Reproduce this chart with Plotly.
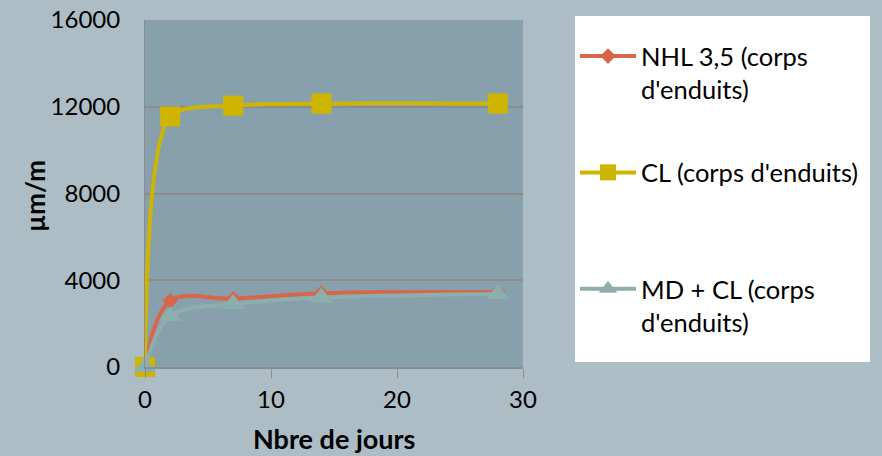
import plotly.graph_objects as go

days = [0, 2, 7, 14, 28]
nhl = [0, 3050, 3150, 3400, 3450]
cl = [0, 11550, 12050, 12150, 12150]
mdcl = [0, 2350, 2900, 3200, 3370]

series_names = ["NHL 3,5 (corps<br>d'enduits)", "CL (corps d'enduits)<br>&nbsp;", "MD + CL (corps<br>d'enduits)"]
x_ticks = [0, 10, 20, 30]
y_ticks = [0, 4000, 8000, 12000, 16000]
y_ticklabels = ["0", "4000", "8000", "12000", "16000"]
x_title = "Nbre de jours"
y_title = "µm/m"

W, H = 882, 456
L, R, T, B = 145, 523, 20, 367

def px2x(p):
    return (p - L) / (R - L)

def py2y(p):
    return (B - p) / (B - T)

fig = go.Figure()
fig.add_trace(go.Scatter(x=days, y=nhl, name=series_names[0], mode="lines+markers",
                         line=dict(color="#D8664B", width=4, shape="spline", smoothing=1.0),
                         marker=dict(symbol="diamond", size=12, color="#D8664B"),
                         cliponaxis=False, legendgroup="a"))
fig.add_trace(go.Scatter(x=days, y=cl, name=series_names[1], mode="lines+markers",
                         line=dict(color="#CFB500", width=4, shape="spline", smoothing=0.75),
                         marker=dict(symbol="square", size=20, color="#CFB500"),
                         cliponaxis=False, legendgroup="b"))
fig.add_trace(go.Scatter(x=days, y=mdcl, name=series_names[2], mode="lines+markers",
                         line=dict(color="#8CAEAC", width=4, shape="spline", smoothing=1.0),
                         marker=dict(symbol="triangle-up", size=20, color="#8CAEAC"),
                         cliponaxis=False, legendgroup="c"))

fig.add_shape(type="rect", xref="paper", yref="paper",
              x0=px2x(575), x1=px2x(870), y0=py2y(362), y1=py2y(16),
              fillcolor="white", line=dict(width=0), layer="below")

fig.add_annotation(text="<b>" + x_title + "</b>", xref="paper", yref="paper",
                   x=0.5, y=py2y(438), xanchor="center", yanchor="middle",
                   showarrow=False, font=dict(size=27))
fig.add_annotation(text="<b>" + y_title + "</b>", xref="paper", yref="paper",
                   x=px2x(35), y=py2y(196), xanchor="center", yanchor="middle",
                   textangle=-90, showarrow=False, font=dict(size=26))

font_family = "Lato, 'Open Sans', sans-serif"
fig.update_layout(
    width=W, height=H,
    margin=dict(l=L, r=W - R, t=T, b=H - B, pad=0, autoexpand=False),
    paper_bgcolor="#ADBDC5",
    plot_bgcolor="#88A0AB",
    font=dict(family=font_family, size=24, color="black"),
    showlegend=True,
    legend=dict(x=px2x(575), y=py2y(33), xanchor="left", yanchor="top",
                bgcolor="rgba(0,0,0,0)", borderwidth=0,
                font=dict(size=25.5, family=font_family),
                itemwidth=56, valign="top", tracegroupgap=47,
                traceorder="grouped"),
    xaxis=dict(range=[0, 30], tickvals=x_ticks, showgrid=False, zeroline=False,
               showline=True, linecolor="#8C8C8C", linewidth=2, automargin=False,
               ticks="outside", ticklen=9, tickcolor="#8C8C8C", tickwidth=1,
               ticklabelstandoff=1, tickfont=dict(size=24)),
    yaxis=dict(range=[0, 16000], tickvals=y_ticks, ticktext=y_ticklabels,
               showgrid=True, gridcolor="#8C8C8C", automargin=False,
               gridwidth=2, zeroline=False, showline=True, linecolor="#8C8C8C", linewidth=1,
               ticks="outside", ticklen=19, tickcolor="rgba(0,0,0,0)", tickwidth=2,
               tickfont=dict(size=24)),
    yaxis2=dict(range=[0, 16000], tickvals=y_ticks, overlaying="y", side="left",
                anchor="x", showgrid=False, zeroline=False, showline=False,
                showticklabels=False, automargin=False,
                ticks="outside", ticklen=9, tickcolor="#8C8C8C", tickwidth=2),
)

fig.write_html("out.html", config={"displayModeBar": False},
               post_script="document.body.style.margin='0px';")
